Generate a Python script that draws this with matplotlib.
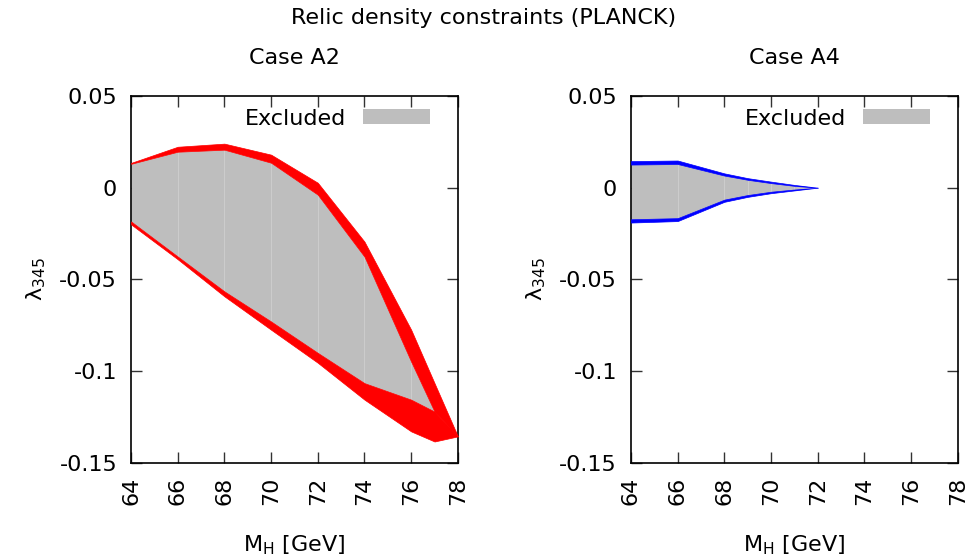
import numpy as np
import matplotlib
matplotlib.use("Agg")
import matplotlib.pyplot as plt
from matplotlib.patches import Patch

plt.rcParams['font.family'] = ['DejaVu Sans']
plt.rcParams['font.size'] = 16

# ── Case A2 (red allowed bands around the excluded region) ───────────────────
a2_mass = [64, 66, 68, 70, 72, 74, 76, 77, 78]
a2_up_outer = [0.0135, 0.0223, 0.0240, 0.0180, 0.0027, -0.0294, -0.0774, -0.1065, -0.1355]
a2_up_inner = [0.0130, 0.0196, 0.0207, 0.0136, -0.0038, -0.0376, -0.0948, -0.1220, -0.1355]
a2_lo_inner = [-0.0184, -0.0375, -0.0565, -0.0729, -0.0900, -0.1065, -0.1155, -0.1220, -0.1355]
a2_lo_outer = [-0.0200, -0.0390, -0.0592, -0.0774, -0.0954, -0.1155, -0.1328, -0.1383, -0.1355]

# ── Case A4 (blue allowed bands) ─────────────────────────────────────────────
a4_mass = [64, 66, 68, 69, 70, 71, 72]
a4_up_outer = [0.0145, 0.0148, 0.0078, 0.0052, 0.0033, 0.0015, 0.0]
a4_up_inner = [0.0126, 0.0129, 0.0066, 0.0043, 0.0025, 0.0010, 0.0]
a4_lo_inner = [-0.0172, -0.0166, -0.0065, -0.0040, -0.0022, -0.0010, 0.0]
a4_lo_outer = [-0.0190, -0.0182, -0.0077, -0.0050, -0.0030, -0.0015, 0.0]

x_ticks = [64, 66, 68, 70, 72, 74, 76, 78]
y_ticks = [-0.15, -0.1, -0.05, 0, 0.05]
y_ticklabels = ["-0.15", "-0.1", "-0.05", "0", "0.05"]

EXCL_GRAY = '#bebebe'


def draw_case(ax, m, up_out, up_in, lo_in, lo_out, color, title):
    m = np.array(m)
    ax.fill_between(m, lo_in, up_in, color=EXCL_GRAY, lw=0, zorder=2)
    # faint seams between filled slices (gnuplot look)
    for xi, a, b in zip(m[1:-1], lo_in[1:-1], up_in[1:-1]):
        ax.plot([xi, xi], [a, b], color='#cdcdcd', lw=0.7, zorder=3)
    ax.fill_between(m, up_in, up_out, color=color, lw=0.5, edgecolor=color, zorder=4)
    ax.fill_between(m, lo_out, lo_in, color=color, lw=0.5, edgecolor=color, zorder=4)

    ax.set_xlim(64, 78)
    ax.set_ylim(-0.15, 0.05)
    ax.set_xticks(x_ticks)
    ax.set_xticklabels([str(t) for t in x_ticks], rotation=90)
    ax.set_yticks(y_ticks)
    ax.set_yticklabels(y_ticklabels)
    ax.tick_params(direction='in', length=8, width=1, top=True, right=True,
                   pad=10, color='#333333')
    for sp in ax.spines.values():
        sp.set_linewidth(1.2)
    ax.set_title(title, pad=23, fontsize=16)
    ax.set_xlabel(r"M$_\mathregular{H}$ [GeV]", labelpad=20)
    ax.set_ylabel(r"λ$_\mathregular{345}$", labelpad=8)
    ax.legend(handles=[Patch(facecolor=EXCL_GRAY, edgecolor='none', label='Excluded')],
              loc='upper right', bbox_to_anchor=(0.955, 1.002), frameon=False,
              markerfirst=False, handlelength=3.0, handleheight=0.65,
              handletextpad=0.75, borderaxespad=0.2)


fig = plt.figure(figsize=(9.67, 5.57), dpi=100)
ax1 = fig.add_axes([0.1355, 0.1688, 0.338, 0.659])
ax2 = fig.add_axes([0.6525, 0.1688, 0.338, 0.659])

draw_case(ax1, a2_mass, a2_up_outer, a2_up_inner, a2_lo_inner, a2_lo_outer, 'red', 'Case A2')
draw_case(ax2, a4_mass, a4_up_outer, a4_up_inner, a4_lo_inner, a4_lo_outer, 'blue', 'Case A4')

fig.suptitle("Relic density constraints (PLANCK)", y=0.985, fontsize=16)

fig.savefig("out.png", dpi=100)
